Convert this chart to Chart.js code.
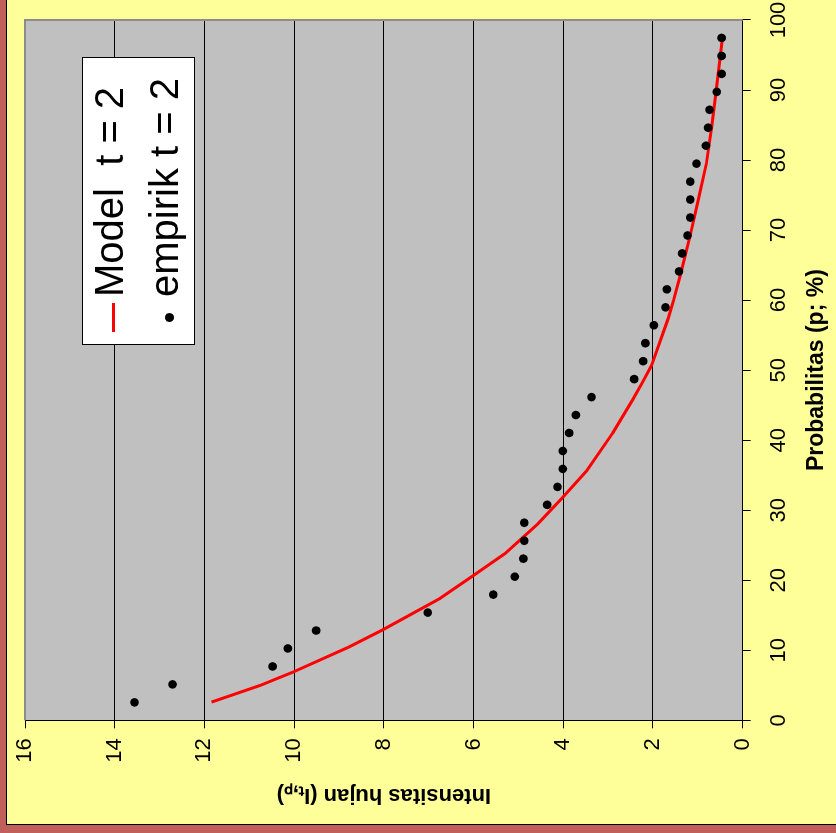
<!DOCTYPE html>
<html>
<head>
<meta charset="utf-8">
<script src="https://cdn.jsdelivr.net/npm/chart.js@4.4.0/dist/chart.umd.min.js"></script>
<style>
html,body{margin:0;padding:0;}
body{width:836px;height:833px;overflow:hidden;background:#C1605A;position:relative;font-family:"Liberation Sans",Arial,sans-serif;}
#frame{position:absolute;left:6px;top:0;width:830px;height:825px;background:#FFFF99;border-left:1px solid #000;border-bottom:1px solid #000;box-sizing:border-box;}
#rot{position:absolute;left:0;top:0;width:833px;height:836px;transform-origin:0 0;transform:translate(0,833px) rotate(-90deg);}
#c{position:absolute;left:0;top:0;}
#legend{position:absolute;left:488px;top:82px;width:288px;height:113px;background:#fff;border:1px solid #000;box-sizing:border-box;font-size:40px;color:#000;}
.txt{position:absolute;white-space:pre;line-height:42px;height:42px;}
.dash{position:absolute;background:#FF0000;}
.dot{position:absolute;background:#000;border-radius:50%;}
</style>
</head>
<body>
<div id="frame"></div>
<div id="rot">
  <canvas id="c" width="833" height="836"></canvas>
  <div id="legend"></div>
</div>
<script>
// ---- data ----
const modelLabel = 'Model  t = 2';
const empLabel = 'empirik t = 2';
const xTitle = 'Probabilitas (p; %)';
const yTitle = 'Intensitas hujan (I\u209C,\u209A)';

const empiricalP = [2.56, 5.13, 7.69, 10.26, 12.82, 15.38, 17.95, 20.51, 23.08, 25.64,
  28.21, 30.77, 33.33, 35.90, 38.46, 41.03, 43.59, 46.15, 48.72, 51.28,
  53.85, 56.41, 58.97, 61.54, 64.10, 66.67, 69.23, 71.79, 74.36, 76.92,
  79.49, 82.05, 84.62, 87.18, 89.74, 92.31, 94.87, 97.44];
const empiricalI = [13.56, 12.71, 10.48, 10.14, 9.51, 7.02, 5.56, 5.08, 4.89, 4.87,
  4.87, 4.36, 4.13, 4.01, 4.01, 3.87, 3.72, 3.37, 2.42, 2.22,
  2.17, 1.98, 1.72, 1.69, 1.42, 1.35, 1.23, 1.17, 1.17, 1.17,
  1.03, 0.82, 0.77, 0.74, 0.58, 0.47, 0.47, 0.47];

const modelP = [2.6, 5.0, 6.9, 10.4, 12.9, 17.4, 20.7, 23.8, 28.1, 31.7, 35.7, 41.0, 45.7,
  48.2, 50.7, 57.4, 60.0, 63.8, 69.5, 74.3, 79.5, 84.8, 90.0, 94.8, 96.9];
const modelI = [11.84, 10.75, 10.02, 8.80, 8.03, 6.75, 6.0, 5.30, 4.56, 4.03, 3.47, 2.90, 2.46,
  2.24, 2.03, 1.66, 1.54, 1.38, 1.16, 0.99, 0.81, 0.69, 0.59, 0.50, 0.46];

const xTicks = [0, 10, 20, 30, 40, 50, 60, 70, 80, 90, 100];
const yTicks = [0, 2, 4, 6, 8, 10, 12, 14, 16];

const FAM = '"Liberation Sans", Arial, sans-serif';

const plotBg = {
  id: 'plotBg',
  beforeDraw(chart) {
    const {ctx, chartArea: a} = chart;
    ctx.save();
    ctx.fillStyle = '#C0C0C0';
    ctx.fillRect(a.left, a.top, a.right - a.left, a.bottom - a.top);
    ctx.restore();
  },
  beforeDatasetsDraw(chart) {
    const {ctx, chartArea: a} = chart;
    ctx.save();
    ctx.strokeStyle = '#8C8C8C';
    ctx.lineWidth = 2;
    ctx.beginPath();
    ctx.moveTo(a.left, a.top);
    ctx.lineTo(a.right, a.top);
    ctx.lineTo(a.right, a.bottom);
    ctx.stroke();
    ctx.restore();
  }
};

const chart = new Chart(document.getElementById('c'), {
  type: 'scatter',
  data: {
    datasets: [
      {
        label: modelLabel,
        data: modelP.map((p, i) => ({x: p, y: modelI[i]})),
        showLine: true,
        borderColor: '#FF0000',
        backgroundColor: '#FF0000',
        borderWidth: 3,
        pointRadius: 0,
        tension: 0,
        borderJoinStyle: 'round',
        order: 2
      },
      {
        label: empLabel,
        data: empiricalP.map((p, i) => ({x: p, y: empiricalI[i]})),
        showLine: false,
        pointRadius: 4.3,
        pointBackgroundColor: '#000',
        pointBorderColor: '#000',
        pointBorderWidth: 0,
        order: 1
      }
    ]
  },
  options: {
    responsive: false,
    devicePixelRatio: 1,
    animation: false,
    layout: {padding: {left: 0, right: 20, top: 25, bottom: 0}},
    plugins: {legend: {display: false}, tooltip: {enabled: false}},
    scales: {
      x: {
        type: 'linear', position: 'bottom', min: 0, max: 100,
        afterBuildTicks(s) { s.ticks = xTicks.map(v => ({value: v})); },
        afterFit(s) { s.height = 93.3; s.paddingLeft = 0; s.paddingRight = 0; },
        ticks: {autoSkip: false, maxRotation: 0, minRotation: 0, padding: 15, color: '#000',
          font: {size: 22, family: FAM}},
        grid: {drawOnChartArea: false, drawTicks: true, tickLength: 8, color: '#000'},
        border: {display: true, color: '#000', width: 1},
        title: {display: true, text: xTitle, color: '#000',
          font: {size: 23, weight: 'bold', family: FAM}, padding: {top: 0, bottom: 6}}
      },
      y: {
        type: 'linear', position: 'left', min: 0, max: 16,
        afterBuildTicks(s) { s.ticks = yTicks.map(v => ({value: v})); },
        afterFit(s) { s.width = 112.7; s.paddingTop = 0; s.paddingBottom = 0; },
        ticks: {autoSkip: false, padding: 10, color: '#000', font: {size: 22, family: FAM}},
        grid: {drawOnChartArea: true, drawTicks: true, tickLength: 8, color: '#000'},
        border: {display: true, color: '#000', width: 1},
        title: {display: true, text: yTitle, color: '#000',
          font: {size: 22, weight: 'bold', family: FAM}, padding: {top: 25, bottom: 0}}
      }
    }
  },
  plugins: [plotBg]
});

// HTML legend built from the chart's datasets
const lg = document.getElementById('legend');
const rows = [
  {ds: chart.data.datasets[0], top: 5},
  {ds: chart.data.datasets[1], top: 60}
];
rows.forEach((r, i) => {
  const t = document.createElement('div');
  t.className = 'txt';
  t.style.left = '47px';
  t.style.top = r.top + 'px';
  t.textContent = r.ds.label;
  lg.appendChild(t);
  const m = document.createElement('div');
  if (i === 0) {
    m.className = 'dash';
    m.style.left = '12px'; m.style.top = '28.5px'; m.style.width = '29px'; m.style.height = '3px';
  } else {
    m.className = 'dot';
    m.style.left = '21.5px'; m.style.top = '81.5px'; m.style.width = '9px'; m.style.height = '9px';
  }
  lg.appendChild(m);
});
</script>
</body>
</html>
